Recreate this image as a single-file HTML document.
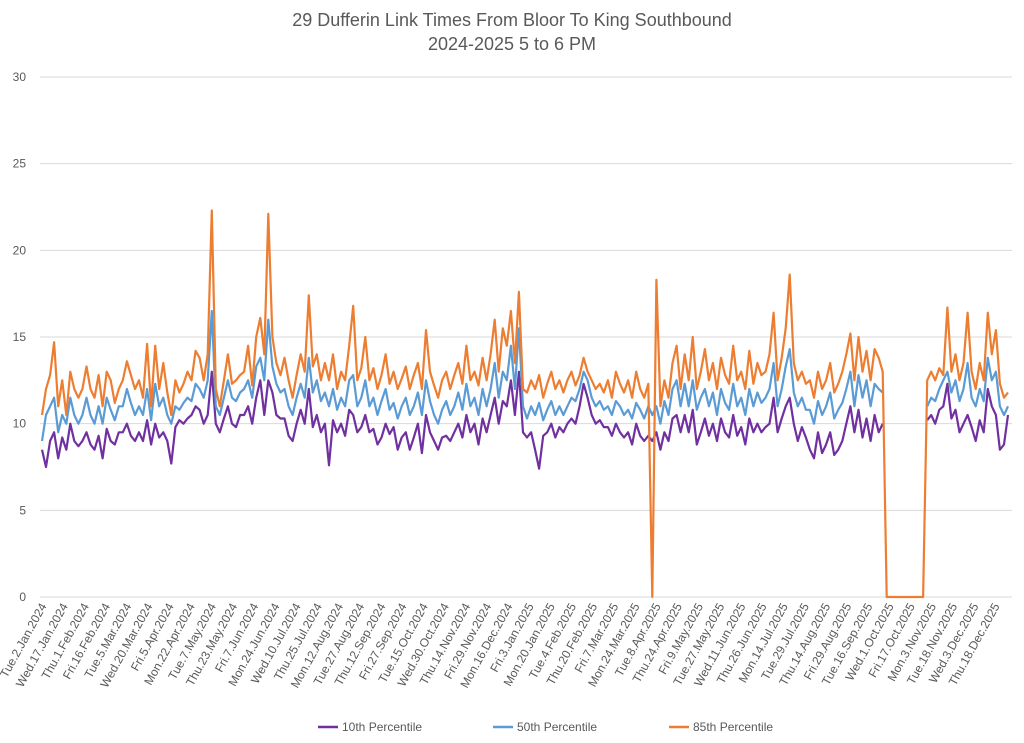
<!DOCTYPE html>
<html><head><meta charset="utf-8"><style>
body{margin:0;background:#fff;width:1024px;height:738px;overflow:hidden;font-family:"Liberation Sans",sans-serif}
</style></head><body>
<svg id="chart" width="1024" height="738" xmlns="http://www.w3.org/2000/svg">
<text x="512" y="26" text-anchor="middle" font-size="18" fill="#595959">29 Dufferin Link Times From Bloor To King Southbound</text>
<text x="512" y="50" text-anchor="middle" font-size="18" fill="#595959">2024-2025 5 to 6 PM</text>
<g id="grid"></g><g id="xlabels"></g><g id="lines"></g>
<g font-size="12" fill="#595959">
<line x1="318" y1="727" x2="338" y2="727" stroke="#7030a0" stroke-width="2.5"/><text x="342" y="731">10th Percentile</text>
<line x1="493" y1="727" x2="513" y2="727" stroke="#5b9bd5" stroke-width="2.5"/><text x="517" y="731">50th Percentile</text>
<line x1="669" y1="727" x2="689" y2="727" stroke="#ed7d31" stroke-width="2.5"/><text x="693" y="731">85th Percentile</text>
</g>
</svg>
<script>
const yTicks=[0,5,10,15,20,25,30];
const xLabels=["Tue.2.Jan.2024","Wed.17.Jan.2024","Thu.1.Feb.2024","Fri.16.Feb.2024","Tue.5.Mar.2024","Wed.20.Mar.2024","Fri.5.Apr.2024","Mon.22.Apr.2024","Tue.7.May.2024","Thu.23.May.2024","Fri.7.Jun.2024","Mon.24.Jun.2024","Wed.10.Jul.2024","Thu.25.Jul.2024","Mon.12.Aug.2024","Tue.27.Aug.2024","Thu.12.Sep.2024","Fri.27.Sep.2024","Tue.15.Oct.2024","Wed.30.Oct.2024","Thu.14.Nov.2024","Fri.29.Nov.2024","Mon.16.Dec.2024","Fri.3.Jan.2025","Mon.20.Jan.2025","Tue.4.Feb.2025","Thu.20.Feb.2025","Fri.7.Mar.2025","Mon.24.Mar.2025","Tue.8.Apr.2025","Thu.24.Apr.2025","Fri.9.May.2025","Tue.27.May.2025","Wed.11.Jun.2025","Thu.26.Jun.2025","Mon.14.Jul.2025","Tue.29.Jul.2025","Thu.14.Aug.2025","Fri.29.Aug.2025","Tue.16.Sep.2025","Wed.1.Oct.2025","Fri.17.Oct.2025","Mon.3.Nov.2025","Tue.18.Nov.2025","Wed.3.Dec.2025","Thu.18.Dec.2025"];
const N=null;
const p85=[10.5,12,12.8,14.7,11,12.5,10.5,13,12,11.5,
12,13.3,12,11.5,12.8,11,13,12.5,11.2,12,
12.5,13.6,12.8,12,12.5,11.5,14.6,11,14.5,12,
13.5,11.8,10.5,12.5,11.8,12.3,13,12.5,14.2,13.8,
12.5,14,22.3,12,11,12.5,14,12.3,12.5,12.8,
13,14.5,12.2,15,16.1,14,22.1,15,13.5,12.8,
13.8,12.5,11.5,12.8,14,13,17.4,13.3,14,12.5,
13.5,12.5,14,12,13,12.5,14.5,16.8,12.5,13.2,
15,12.5,13.2,12,12.8,14,12.3,13,12,12.6,
13.3,12,12.8,13.5,12,15.4,13,12.2,11.5,12.5,
13,12,12.8,13.5,12.3,14.5,12.5,13,12.2,13.8,
12.5,14,16,13,15.5,14.5,16.5,13.5,17.6,12,
11.8,12.5,12,12.8,11.5,12.3,13,12,12.5,11.8,
12.5,13,12.2,12.8,13.8,13,12.5,12,12.3,11.8,
12.5,11.5,13,12.3,11.8,12.5,11.5,13,12,11.5,
12.3,0,18.3,11,12.5,11.5,13.5,14.5,12,14,
12.5,15,12,13,14.3,12.5,13.5,12,13.8,12.8,
12.3,14.5,12.5,13,12,14.2,12.3,13.5,12.8,13,
14,16.4,12.5,13.8,15.5,18.6,13.5,12.5,13,12.3,
12.5,11.5,13,12,12.5,13.5,11.8,12.3,13,14,
15.2,12.5,15,13,14.2,12.5,14.3,13.8,13,0,
0,0,0,0,0,0,0,0,0,12.5,
13,12.5,13.2,12.8,16.7,13,14,12.5,13.5,16.4,
13,12,13.5,12.5,16.4,14,15.4,12.3,11.5,11.8];
const p50=[9,10.5,11,11.5,9.5,10.5,10,11.5,10.5,10,
10.5,11.5,10.5,10,11,10,11.5,10.8,10.2,11,
11,12,11.2,10.5,11,10.5,12,10.2,12.3,11,
11.5,10.5,10,11,10.8,11.2,11.5,11.3,12.3,12,
11.5,12.5,16.5,11,10.5,11.5,12.5,11.5,11.3,11.8,
12,12.5,11.5,13.3,13.8,12.5,16,13.3,12.3,11.8,
12,11,10.5,11.5,12.3,11.5,13.8,11.8,12.5,11.3,
11.8,11,12,10.8,11.5,11,12.5,12.8,11,11.5,
12.5,11,11.5,10.5,11.3,12,10.8,11.2,10.3,11,
11.5,10.5,11,11.8,10.5,12.5,11.3,10.5,10,10.8,
11.3,10.5,11,11.8,10.8,12.3,11,11.5,10.5,12,
11,12,13.5,11.5,13,12.5,14.5,12,15.5,11,
10.3,11,10.5,11.2,10.2,10.8,11.3,10.5,11,10.5,
11,11.5,11.3,12,13,12.5,11.5,11,11.3,10.8,
11,10.5,11.3,11,10.5,10.8,10.3,11.2,10.8,10.3,
11,10.5,11,10,11.3,10.5,12,12.5,11,12.3,
11,12.5,10.8,11.5,12,11,11.8,10.5,12,11.2,
10.8,12.3,11,11.5,10.5,12,11,11.8,11.2,11.5,
12,13.5,11,12,13.3,14.3,11.8,11,11.5,10.8,
10.8,10,11.3,10.5,11,11.8,10.3,10.8,11.2,12,
13,11,12.8,11.5,12.5,11,12.3,12,11.8,N,
N,N,N,N,N,N,N,N,N,11,
11.5,11.3,12,12.5,13,11.8,12.5,11.3,12,13.5,
11.5,11,12,11.3,13.8,12.5,13,11,10.5,11];
const p10=[8.5,7.5,9,9.5,8,9.2,8.5,10,9,8.7,
9,9.5,8.8,8.5,9.3,8,9.7,9,8.8,9.5,
9.5,10,9.3,9,9.5,9,10.2,8.8,10,9.2,
9.5,9,7.7,9.8,10.2,10,10.3,10.5,11,10.8,
10,10.5,13,10,9.5,10.3,11,10,9.8,10.5,
10.5,11,10,11.5,12.5,10.5,12.5,11.8,10.5,10.3,
10.3,9.3,9,10,10.8,10,12,9.8,10.5,9.5,
10,7.6,10.2,9.5,10,9.3,10.8,10.5,9.5,9.8,
10.5,9.5,9.7,8.8,9.2,10,9.4,9.8,8.5,9.2,
9.5,8.5,9.2,10,8.3,10.5,9.5,9,8.5,9.2,
9.3,9,9.5,10,9.2,10.5,9.5,10,8.8,10.3,
9.5,10.5,11.5,10,11.3,11,12.5,10.5,13,9.5,
9.2,9.5,8.5,7.4,9.3,9.5,10,9.2,9.8,9.5,
10,10.3,10,11,12.3,11.5,10.5,10,10.2,9.8,
9.8,9.3,10,9.5,9.2,9.5,8.8,10,9.3,9,
9.3,9,9.5,8.5,9.5,9,10.3,10.5,9.5,10.5,
9.5,10.8,8.8,9.5,10.3,9.3,10,9,10.3,9.5,
9.2,10.5,9.3,9.8,8.8,10.3,9.5,10,9.5,9.8,
10,11.5,9.5,10.3,11,11.5,10,9,9.8,9.2,
8.5,8,9.5,8.3,8.8,9.5,8.2,8.5,9,10,
11,9.5,10.8,9.2,10.3,9,10.5,9.5,10,N,
N,N,N,N,N,N,N,N,N,10.2,
10.5,10,10.8,11,12.3,10.3,10.8,9.5,10,10.5,
9.8,9,10.2,9.5,12,11,10.5,8.5,8.8,10.5];

const NS="http://www.w3.org/2000/svg";
const X0=42,X1=1008,Y0=597,Y1=77,YMAX=30;
const yS=v=>Y0-(v/YMAX)*(Y0-Y1);
const xS=i=>X0+i*(X1-X0)/(p85.length-1);
const labX=k=>X0+k*(1000-X0-5)/(xLabels.length-1);
const grid=document.getElementById('grid');
yTicks.forEach(t=>{
  const l=document.createElementNS(NS,'line');
  
  
  l.setAttribute('x1',40);l.setAttribute('x2',1012);
  l.setAttribute('y1',yS(t));l.setAttribute('y2',yS(t));
  l.setAttribute('stroke','#d9d9d9');l.setAttribute('stroke-width','1');
  grid.appendChild(l);
  const tx=document.createElementNS(NS,'text');
  
  
  tx.setAttribute('x',26);tx.setAttribute('y',yS(t)+4);
  tx.setAttribute('text-anchor','end');tx.setAttribute('font-size','12');tx.setAttribute('fill','#595959');
  tx.textContent=t;grid.appendChild(tx);
});
const xl=document.getElementById('xlabels');
xLabels.forEach((s,k)=>{
  const tx=document.createElementNS(NS,'text');
  
  
  const x=labX(k)+5,y=606;
  tx.setAttribute('x',x);tx.setAttribute('y',y);
  tx.setAttribute('text-anchor','end');tx.setAttribute('font-size','12');tx.setAttribute('fill','#595959');
  tx.setAttribute('transform','rotate(-61 '+x+' '+y+')');
  tx.textContent=s;xl.appendChild(tx);
});
function draw(arr,color,name){
  let d='',pen=false;
  arr.forEach((v,i)=>{
    if(v===null){pen=false;return;}
    d+=(pen?'L':'M')+xS(i).toFixed(1)+' '+yS(v).toFixed(1)+' ';pen=true;
  });
  const p=document.createElementNS(NS,'path');
  
  
  p.setAttribute('d',d);p.setAttribute('fill','none');p.setAttribute('stroke',color);
  p.setAttribute('stroke-width','2.2');p.setAttribute('stroke-linejoin','round');
  document.getElementById('lines').appendChild(p);
}
draw(p10,'#7030a0','line-10th-percentile');
draw(p50,'#5b9bd5','line-50th-percentile');
draw(p85,'#ed7d31','line-85th-percentile');
</script>
</body></html>
